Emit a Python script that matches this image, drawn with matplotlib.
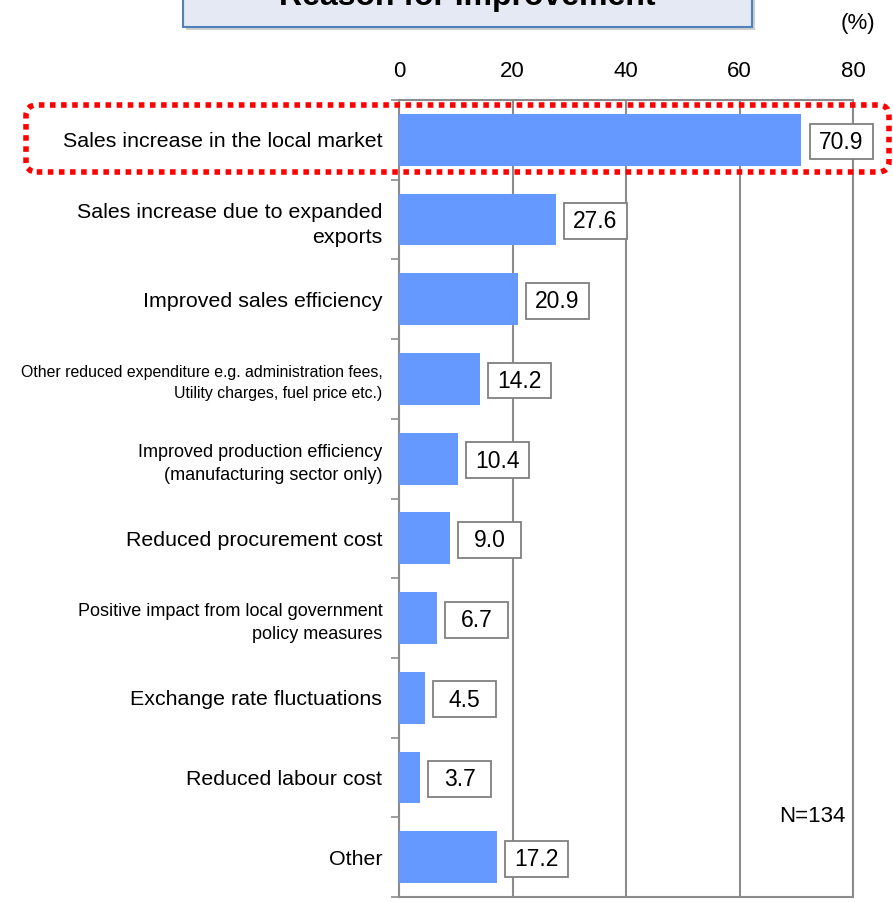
import matplotlib
matplotlib.use('Agg')
import matplotlib.pyplot as plt
from matplotlib.patches import FancyBboxPatch, Rectangle
import numpy as np

plt.rcParams['font.family'] = ['Liberation Sans', 'DejaVu Sans']

# Data
categories = [
    'Sales increase in the local market',
    'Sales increase due to expanded\nexports',
    'Improved sales efficiency',
    'Other reduced expenditure e.g. administration fees,\nUtility charges, fuel price etc.)',
    'Improved production efficiency\n(manufacturing sector only)',
    'Reduced procurement cost',
    'Positive impact from local government\npolicy measures',
    'Exchange rate fluctuations',
    'Reduced labour cost',
    'Other',
]
values = [70.9, 27.6, 20.9, 14.2, 10.4, 9.0, 6.7, 4.5, 3.7, 17.2]
label_sizes = [15.4, 15.4, 15.4, 11.4, 13, 15.4, 13, 15.4, 15.4, 15.4]
x_ticks = [0, 20, 40, 60, 80]

bar_color = '#6699ff'
grid_color = '#8c8c8c'

W, H = 893, 902
fig = plt.figure(figsize=(W / 100, H / 100), dpi=100)
ax = fig.add_axes([399 / W, 5 / H, 454 / W, 797 / H])

y = np.arange(len(categories))
ax.barh(y, values, height=0.65, color=bar_color, zorder=3)

ax.set_xlim(0, 80)
ax.set_ylim(len(categories) - 0.5, -0.5)

# x axis on top
ax.xaxis.tick_top()
ax.set_xticks(x_ticks)
ax.set_xticklabels([str(t) for t in x_ticks], fontsize=16)
ax.tick_params(axis='x', length=0, pad=13)
ax.grid(axis='x', color=grid_color, linewidth=1.5, zorder=1)

# category labels
ax.set_yticks(y)
ax.set_yticklabels(categories)
for lbl, fs in zip(ax.get_yticklabels(), label_sizes):
    lbl.set_fontsize(fs)
    lbl.set_horizontalalignment('right')
    lbl.set_linespacing(1.45)
ax.tick_params(axis='y', length=0, pad=12)
ax.set_yticks(np.arange(len(categories) + 1) - 0.5, minor=True)
ax.tick_params(axis='y', which='minor', length=6, width=1.2, color=grid_color)

for s in ax.spines.values():
    s.set_color(grid_color)
    s.set_linewidth(1.5)

# value boxes next to each bar
box_w, box_h, gap = 11.1, 0.45, 1.45
for yi, v in zip(y, values):
    ax.add_patch(Rectangle((v + gap, yi - box_h / 2 + 0.02), box_w, box_h,
                           facecolor='white', edgecolor='#808080',
                           linewidth=1.3, zorder=4, clip_on=False))
    ax.text(v + gap + box_w / 2, yi + 0.03, f'{v:.1f}', fontsize=16.5,
            va='center', ha='center', zorder=5, clip_on=False)

# title box, cut by the top edge
shadow = FancyBboxPatch((186 / W, 1 - 30 / H), 569 / W, 60 / H,
                        boxstyle='square,pad=0', transform=fig.transFigure,
                        facecolor='#b0b0b0', edgecolor='none', alpha=0.6)
fig.patches.append(shadow)
title_box = FancyBboxPatch((183 / W, 1 - 27 / H), 569 / W, 60 / H,
                           boxstyle='square,pad=0', transform=fig.transFigure,
                           facecolor='#e4e9f4', edgecolor='#4f81bd', linewidth=1.5)
fig.patches.append(title_box)
fig.text(467 / W, 1 - 5 / H, 'Reason for Improvement', fontsize=23,
         fontweight='bold', ha='center', va='baseline')

fig.text(858 / W, 1 - 24 / H, '(%)', fontsize=16, ha='center', va='center')
fig.text(812 / W, 1 - 817 / H, 'N=134', fontsize=16, ha='center', va='center')

# dotted highlight around the top item
highlight = FancyBboxPatch((26 / W, 1 - 172 / H), 863 / W, 67 / H,
                           boxstyle='round,pad=0,rounding_size=0.012',
                           transform=fig.transFigure, facecolor='none',
                           edgecolor='#ff0000', linewidth=4,
                           linestyle=(0, (1, 1)), zorder=10)
fig.patches.append(highlight)

fig.savefig('out.png', dpi=100, facecolor='white')
